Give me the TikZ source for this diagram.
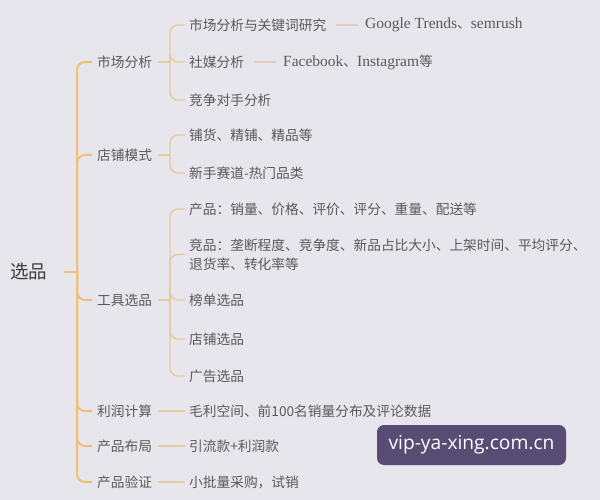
\documentclass[tikz,border=0pt]{standalone}
\usepackage{fontspec}
\setmainfont{Noto Sans CJK SC}
\newfontfamily\serifl{Liberation Serif}
\newfontfamily\wmfont{Open Sans}
\newcommand\latn[1]{{\serifl\fontsize{15.5}{19}\selectfont #1}}
\definecolor{bgc}{HTML}{E7E6EC}
\definecolor{txtc}{HTML}{5A5A5A}
\definecolor{rootc}{HTML}{3C3C3C}
\definecolor{mainc}{HTML}{F0BF78}
\definecolor{subc}{HTML}{E3CB9F}
\definecolor{leafc}{HTML}{E5CBBF}
\definecolor{wmc}{HTML}{574C73}
\begin{document}
\begin{tikzpicture}[x=1pt,y=-1pt,
  txt/.style={anchor=west,inner sep=0pt,text=txtc,font=\fontsize{13.7}{19}\selectfont,align=left},
  l1/.style={draw=mainc,line width=2pt,rounded corners=8pt},
  l2/.style={draw=subc,line width=1.4pt,rounded corners=8pt},
  l3/.style={draw=leafc,line width=1.2pt}]
\fill[bgc] (0,0) rectangle (600,500);
\useasboundingbox (0,0) rectangle (600,500);
% root
\node[txt,font=\fontsize{18.5}{20}\selectfont,text=rootc] (r) at (10,272) {选品};
% level 1
\node[txt] (a) at (97,62) {市场分析};
\node[txt] (b) at (97,155) {店铺模式};
\node[txt] (c) at (97,300) {工具选品};
\node[txt] (d) at (97,411) {利润计算};
\node[txt] (e) at (97,446) {产品布局};
\node[txt] (f) at (97,482) {产品验证};
% level 2
\node[txt] (a1) at (189,25) {市场分析与关键词研究};
\node[txt] (a2) at (189,62) {社媒分析};
\node[txt] (a3) at (189,100) {竞争对手分析};
\node[txt] (b1) at (189,135) {铺货、精铺、精品等};
\node[txt] (b2) at (189,173) {新手赛道-热门品类};
\node[txt] (c1) at (189,209) {产品：销量、价格、评价、评分、重量、配送等};
\node[txt] (c2) at (189,254.5) {竞品：垄断程度、竞争度、新品占比大小、上架时间、平均评分、\\退货率、转化率等};
\node[txt] (c3) at (189,300) {榜单选品};
\node[txt] (c4) at (189,339) {店铺选品};
\node[txt] (c5) at (189,376) {广告选品};
\node[txt] (d1) at (189,411) {毛利空间、前100名销量分布及评论数据};
\node[txt] (e1) at (189,446) {引流款+利润款};
\node[txt] (f1) at (189,482) {小批量采购，试销};
% level 3
\node[txt] (a1x) at (365,25) {\latn{Google Trends}、\latn{semrush}};
\node[txt] (a2x) at (283,62) {\latn{Facebook}、\latn{Instagram}等};
% root connectors
\coordinate (f0) at (77,272);
\draw[l1] ([xshift=17pt]r.east) -- (f0);
\foreach \n in {a,b,c,d,e,f} \draw[l1] (f0) |- ([xshift=-5pt]\n.west);
% level 2 connectors
\coordinate (fa) at (170,62);
\draw[l2] ([xshift=6pt]a.east) -- (fa);
\foreach \n in {a1,a2,a3} \draw[l2] (fa) |- ([xshift=-4pt]\n.west);
\coordinate (fb) at (170,155);
\draw[l2] ([xshift=6pt]b.east) -- (fb);
\foreach \n in {b1,b2} \draw[l2] (fb) |- ([xshift=-4pt]\n.west);
\coordinate (fc) at (170,300);
\draw[l2] ([xshift=6pt]c.east) -- (fc);
\foreach \n in {c1,c2,c3,c4,c5} \draw[l2] (fc) |- ([xshift=-4pt]\n.west);
\draw[l2] ([xshift=6pt]d.east) -- ([xshift=-4pt]d1.west);
\draw[l2] ([xshift=6pt]e.east) -- ([xshift=-4pt]e1.west);
\draw[l2] ([xshift=6pt]f.east) -- ([xshift=-4pt]f1.west);
% level 3 connectors
\draw[l3] ([xshift=10pt]a1.east) -- ([xshift=-7pt]a1x.west);
\draw[l3] ([xshift=10pt]a2.east) -- ([xshift=-7pt]a2x.west);
% watermark
\node[fill=wmc,rounded corners=7pt,minimum width=189pt,minimum height=40pt,text=white,inner sep=0pt,font=\wmfont\fontsize{19.2}{20}\selectfont] (wm) at (471.5,445) {vip-ya-xing.com.cn};
\end{tikzpicture}
\end{document}
